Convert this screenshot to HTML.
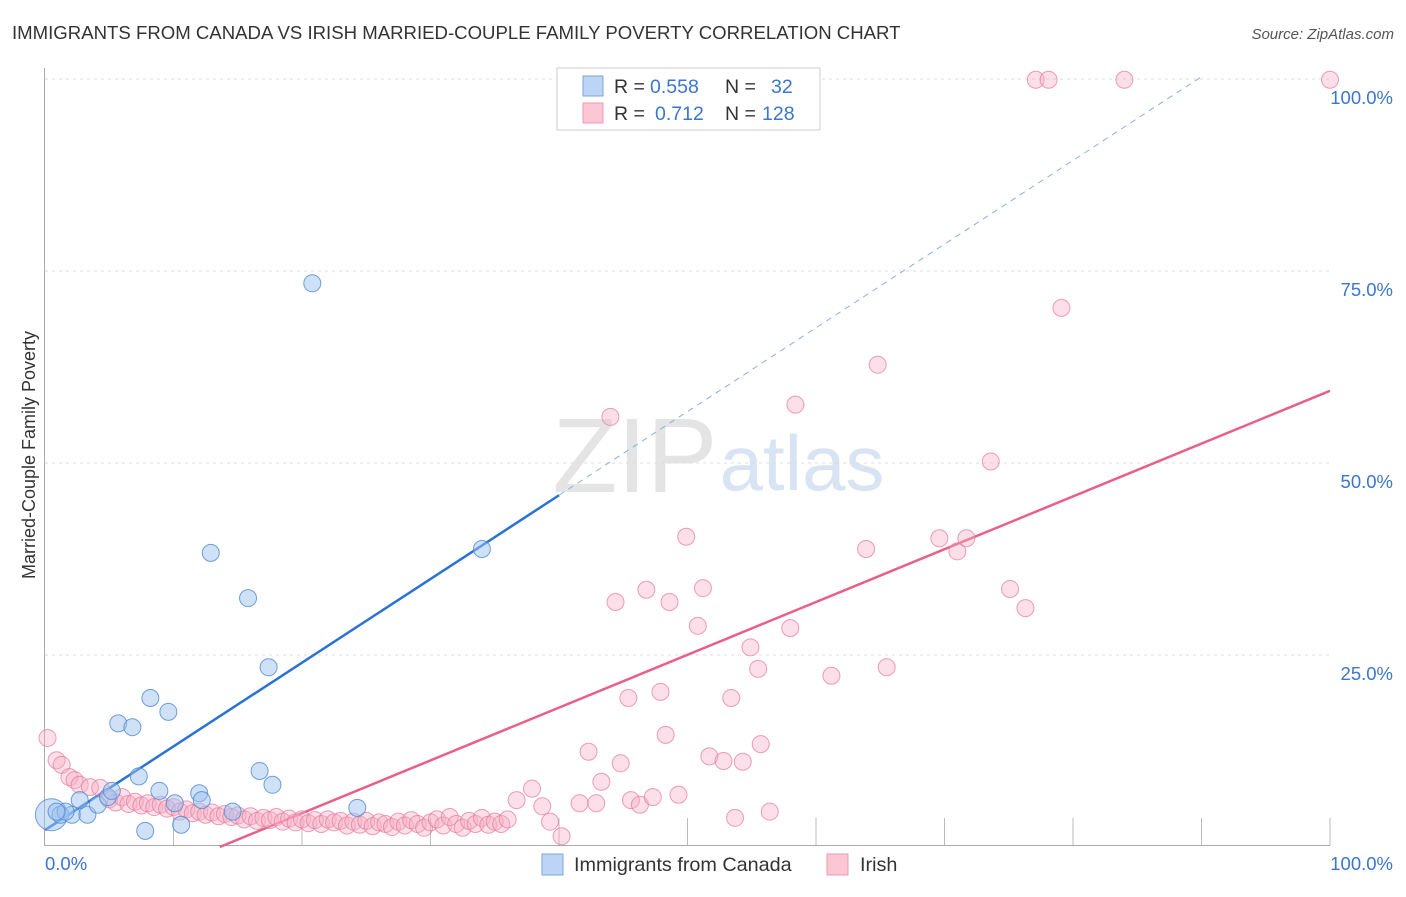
<!DOCTYPE html>
<html><head><meta charset="utf-8"><style>
body{margin:0;background:#fff;font-family:"Liberation Sans",sans-serif;}
svg text{font-family:"Liberation Sans",sans-serif;}
</style></head><body>
<svg id="chart" width="1406" height="892" viewBox="0 0 1406 892">
<text x="12" y="39" font-size="18.6" fill="#333">IMMIGRANTS FROM CANADA VS IRISH MARRIED-COUPLE FAMILY POVERTY CORRELATION CHART</text>
<text x="1394" y="39" font-size="15" fill="#555" font-style="italic" text-anchor="end">Source: ZipAtlas.com</text>
<text x="635" y="492" font-size="106" fill="#e4e4e4" font-family="Liberation Serif" text-anchor="middle">ZIP</text>
<text x="802" y="490" font-size="78" fill="#d8e4f4" text-anchor="middle">atlas</text>
<g id="grid"></g>
<g id="axes"></g>
<g id="lines"></g>
<g id="pts"></g>
<text x="35" y="455" font-size="18" fill="#333" text-anchor="middle" transform="rotate(-90 35 455)">Married-Couple Family Poverty</text>
<g>
<rect x="557" y="68" width="263" height="62" fill="#fff" stroke="#ccc"/>
<rect x="583" y="76" width="20" height="20" fill="#bcd5f5" stroke="#7aa6e0"/>
<rect x="583" y="103" width="20" height="20" fill="#fbc7d5" stroke="#ec9ab1"/>
<text x="614" y="93" font-size="19.5" fill="#333">R =</text>
<text x="650" y="93" font-size="19.5" fill="#3a75d0">0.558</text>
<text x="725" y="93" font-size="19.5" fill="#333">N =</text>
<text x="771" y="93" font-size="19.5" fill="#3a75d0">32</text>
<text x="614" y="120" font-size="19.5" fill="#333">R =</text>
<text x="655" y="120" font-size="19.5" fill="#3a75d0">0.712</text>
<text x="725" y="120" font-size="19.5" fill="#333">N =</text>
<text x="762" y="120" font-size="19.5" fill="#3a75d0">128</text>
</g>
<g>
<rect x="542" y="854" width="21" height="21" fill="#bcd5f5" stroke="#7aa6e0"/>
<text x="574" y="871" font-size="19.8" fill="#333">Immigrants from Canada</text>
<rect x="827" y="854" width="21" height="21" fill="#fbc7d5" stroke="#ec9ab1"/>
<text x="860" y="871" font-size="19.8" fill="#333">Irish</text>
</g>
</svg>
<script>
const yTicks=[25,50,75,100];
const yTickLabels=["25.0%","50.0%","75.0%","100.0%"];
const xTickLabels=["0.0%","100.0%"];
const canadaX=[0.5,1.2,2.1,3.3,4.1,4.9,5.2,5.7,6.8,7.3,7.8,8.2,8.9,9.6,10.1,10.6,12.0,12.2,12.9,14.6,15.8,16.7,17.4,17.7,20.8,24.3,34.0,2.7,1.6,0.9];
const canadaY=[4.2,4.2,4.2,4.2,5.5,6.5,7.3,16.1,15.6,9.2,2.1,19.4,7.3,17.6,5.7,2.9,7.0,6.1,38.3,4.6,32.4,9.9,23.4,8.1,73.4,5.1,38.8,6.1,4.6,4.6];
const irishX=[0.2,0.9,1.3,1.9,2.3,2.7,3.5,4.3,44.0,49.9,46.8,48.6,51.2,44.4,50.8,54.9,55.5,58.0,45.4,47.9,53.4,48.3,42.3,44.8,51.7,52.8,54.3,55.7,43.3,37.9,36.7,41.6,42.9,45.6,46.3,47.3,49.3,53.7,56.4,38.7,39.3,40.2,77.1,78.1,84.0,100,79.1,64.8,58.4,73.6,63.9,69.6,71.0,71.7,75.1,76.3,65.5,61.2,
5,5.5,6,6.5,7,7.5,8,8.5,9,9.5,10,10.5,11,11.5,12,12.5,13,13.5,14,14.5,15,15.5,16,16.5,17,17.5,18,18.5,19,19.5,20,20.5,21,21.5,22,22.5,23,23.5,24,24.5,25,25.5,26,26.5,27,27.5,28,28.5,29,29.5,30,30.5,31,31.5,32,32.5,33,33.5,34,34.5,35,35.5,36];
const irishY=[14.2,11.3,10.7,9.1,8.7,8.1,7.8,7.7,56.0,40.4,33.5,31.9,33.7,31.9,28.8,26.0,23.2,28.5,19.4,20.2,19.4,14.6,12.4,10.9,11.8,11.2,11.1,13.4,8.5,7.6,6.1,5.7,5.7,6.1,5.5,6.5,6.8,3.8,4.6,5.3,3.3,1.4,99.9,99.9,99.9,99.9,70.2,62.8,57.6,50.2,38.8,40.2,38.5,40.2,33.6,31.1,23.4,22.3,
6.2,5.8,6.5,5.6,5.9,5.4,5.7,5.2,5.5,5.0,5.2,4.6,4.9,4.4,4.6,4.2,4.5,4.0,4.3,3.9,4.1,3.6,4.0,3.4,3.8,3.5,3.9,3.3,3.7,3.2,3.6,3.1,3.5,3.0,3.6,3.2,3.4,2.8,3.3,2.9,3.4,2.7,3.2,3.0,2.6,3.3,2.8,3.5,3.0,2.5,3.2,3.6,2.8,3.9,3.0,2.5,3.4,3.0,3.8,2.9,3.3,3.0,3.6];
const canadaTrend=[2.2,1.09];
const irishTrend=[-9.35,0.6875];
const NS="http://www.w3.org/2000/svg";
const X=v=>45+v*12.85, Y=v=>847-v*7.68;
function mk(t,a,p){const e=document.createElementNS(NS,t);for(const k in a)e.setAttribute(k,a[k]);document.getElementById(p).appendChild(e);return e;}
yTicks.forEach((t,i)=>{
 const g=mk('line',{x1:45,x2:1330,y1:Y(t),y2:Y(t),stroke:'#ddd','stroke-dasharray':'3,4'},'grid');
 
 
 const l=mk('text',{x:1393,y:Y(t)+25,'font-size':18.5,fill:'#3a75d0','text-anchor':'end'},'axes');
 l.textContent=yTickLabels[i];
 
 
});
const ax=mk('path',{d:`M44.5 68V845.5H1330`,stroke:'#aaa',fill:'none'},'axes');


for(let i=1;i<=10;i++){const t=mk('line',{x1:X(i*10),x2:X(i*10),y1:845,y2:818,stroke:'#bbb'},'axes');
 
 }
[[0,'start'],[100,'end']].forEach((d,i)=>{const l=mk('text',{x:i?1393:45,y:870,'font-size':18.5,fill:'#3a75d0','text-anchor':d[1]},'axes');l.textContent=xTickLabels[i];
 
 });
irishX.forEach((x,i)=>{const c=mk('circle',{cx:X(x),cy:Y(irishY[i]),r:8.5,fill:'rgba(248,175,198,0.4)',stroke:'rgba(228,120,155,0.7)','stroke-width':1},'pts');
 
 });
canadaX.forEach((x,i)=>{const c=mk('circle',{cx:X(x),cy:Y(canadaY[i]),r:i==0?16:8.5,fill:'rgba(160,196,240,0.5)',stroke:'rgba(80,135,210,0.8)','stroke-width':1},'pts');
 
 });
const cf=x=>canadaTrend[0]+canadaTrend[1]*x, pf=x=>irishTrend[0]+irishTrend[1]*x;
let l1=mk('line',{x1:X(0),y1:Y(cf(0)),x2:X(40),y2:Y(cf(40)),stroke:'#2a72d6','stroke-width':2.5},'lines');


let l2=mk('line',{x1:X(40),y1:Y(cf(40)),x2:X(89.9),y2:Y(cf(89.9)),stroke:'#8ab0e6','stroke-width':1,'stroke-dasharray':'6,5'},'lines');


const x0=-irishTrend[0]/irishTrend[1];
let l3=mk('line',{x1:X(x0),y1:Y(0),x2:X(100),y2:Y(pf(100)),stroke:'#e8608a','stroke-width':2.5},'lines');


</script>
</body></html>
